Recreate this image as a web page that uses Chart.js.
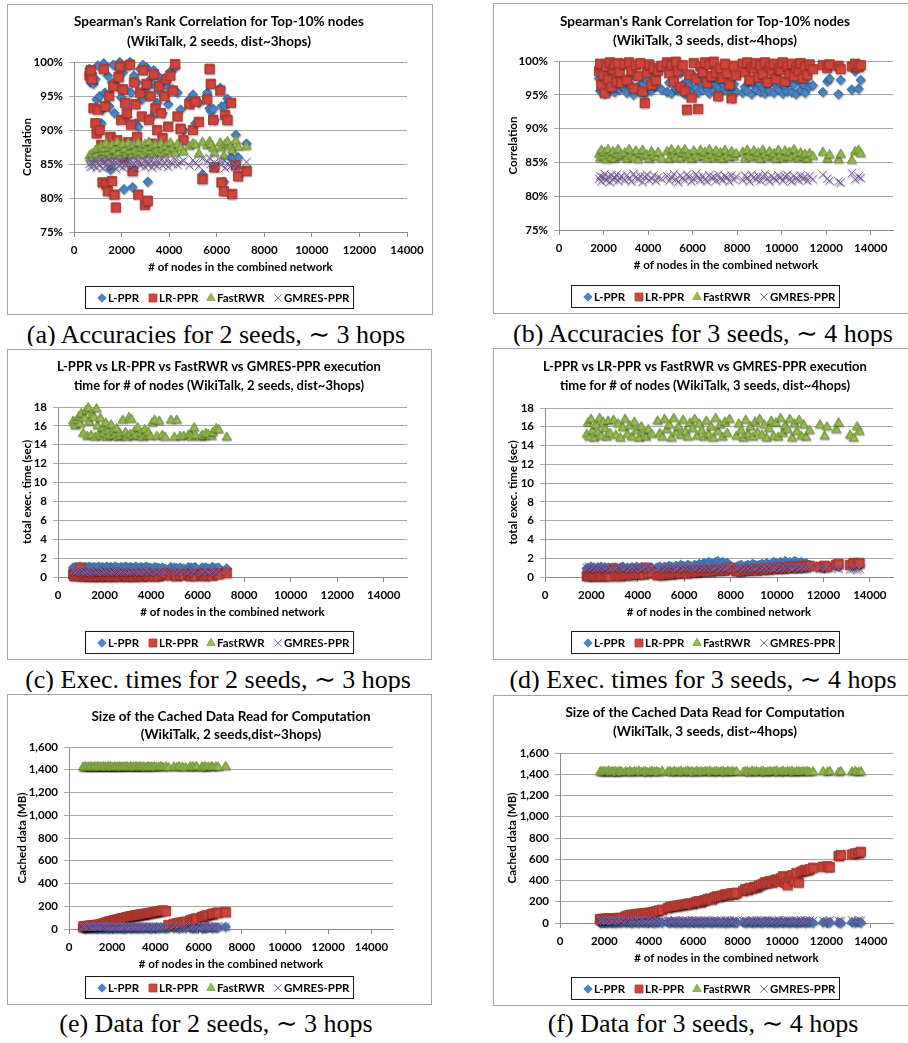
<!DOCTYPE html>
<html>
<head>
<meta charset="utf-8">
<script src="https://cdn.jsdelivr.net/npm/chart.js@4.4.1/dist/chart.umd.min.js"></script>
<style>
  html, body { margin: 0; padding: 0; background: #fff; }
  body { position: relative; width: 908px; height: 1043px; overflow: hidden; }
  canvas { position: absolute; }
  .cap {
    position: absolute; overflow: hidden; white-space: nowrap; text-align: center;
    font-family: "Liberation Serif", "DejaVu Serif", serif; font-size: 26px; line-height: 26px; color: #000;
  }
</style>
</head>
<body>
<script>
// ---------- experiments with 2 seeds (~3 hops) ----------
const nodes2Seeds = [
  650, 700, 750, 820, 900, 950, 1000, 1080, 1150, 1200, 1250, 1300, 1350, 1420, 1480,
  1530, 1600, 1650, 1700, 1760, 1820, 1870, 1920, 1980, 2050, 2100, 2150, 2220, 2280, 2350,
  2400, 2460, 2520, 2580, 2650, 2700, 2780, 2850, 2900, 2980, 3050, 3100, 3150, 3220, 3280,
  3350, 3420, 3500, 3580, 3650, 3720, 3800, 3880, 3960, 4050, 4150, 4250, 4350, 4480, 4600,
  4850, 5000, 5100, 5250, 5400, 5600, 5700, 5750, 5850, 5900, 6150, 6200, 6300, 6350, 6450, 6600, 6650, 6800, 6900, 7250
];
// Spearman correlation (%)
const corr2LPPR = [
  99.0, 97.0, 98.4, 96.8, 97.5, 94.5, 99.5, 95.0, 91.0, 93.0, 99.8, 95.5, 86.5, 98.0, 93.5,
  84.2, 97.0, 99.6, 92.5, 88.0, 96.5, 99.0, 100.0, 94.8, 98.5, 81.3, 96.0, 92.0, 99.5, 100.0,
  95.5, 81.6, 98.0, 91.0, 97.0, 90.5, 99.0, 94.5, 99.6, 96.0, 99.2, 82.4, 95.0, 97.5, 92.0,
  98.8, 96.5, 94.0, 97.8, 95.5, 92.5, 97.6, 96.5, 93.8, 98.6, 96.0, 99.2, 95.5, 93.0, 90.0,
  94.5, 95.2, 91.0, 94.0, 83.5, 95.5, 93.2, 92.8, 93.1, 91.5, 96.2, 93.5, 82.4, 93.6, 94.6, 86.0, 85.8, 89.3, 86.0, 88.0
];
const corr2LRPPR = [
  98.0, 98.8, 97.5, 93.2, 91.0, 89.5, 93.0, 90.0, 87.8, 82.3, 99.0, 93.5, 82.0, 81.0, 95.0,
  89.0, 82.5, 96.5, 80.5, 78.6, 88.5, 97.8, 99.4, 91.5, 96.0, 86.0, 94.0, 92.5, 88.2, 99.6,
  90.8, 84.0, 97.0, 93.8, 89.0, 80.5, 95.5, 92.0, 98.8, 79.0, 96.8, 79.6, 91.5, 95.0, 88.0,
  98.2, 93.2, 90.0, 96.5, 92.5, 88.8, 95.0, 97.5, 90.5, 98.0, 95.8, 99.7, 92.0, 90.2, 88.5,
  93.8, 90.0, 94.2, 91.2, 82.8, 94.5, 99.0, 96.8, 91.5, 84.5, 95.8, 82.3, 81.0, 92.2, 91.5, 94.0, 80.6, 84.8, 83.2, 84.0
];
const corr2FastRWR = [
  86.2, 85.8, 86.5, 86.0, 87.0, 86.4, 87.2, 86.0, 87.6, 86.8, 87.3, 85.9, 88.0, 86.6, 87.4,
  86.2, 87.8, 86.9, 87.1, 86.3, 88.2, 86.7, 87.5, 86.1, 87.9, 86.8, 87.2, 86.4, 88.0, 86.9,
  87.6, 86.2, 87.8, 87.0, 86.5, 88.1, 86.8, 87.4, 86.3, 87.9, 87.1, 86.6, 88.2, 86.9, 87.5,
  86.4, 87.8, 87.0, 86.7, 88.0, 87.2, 86.5, 87.6, 86.9, 88.1, 87.3, 86.6, 87.9, 87.4, 86.8,
  87.6, 88.0, 87.8, 86.5, 88.2, 87.7, 88.3, 87.9, 87.3, 86.6, 88.1, 87.4, 86.2, 87.9, 88.3, 87.6, 87.0, 88.4, 87.5, 87.6
];
const corr2GMRES = [
  85.0, 84.6, 85.3, 84.8, 85.6, 84.5, 85.1, 84.9, 85.7, 84.4, 85.2, 85.5, 84.7, 85.0, 85.8,
  84.6, 85.3, 84.9, 85.5, 84.3, 85.1, 85.6, 84.8, 85.2, 84.5, 85.7, 85.0, 84.7, 85.4, 85.8,
  84.6, 85.2, 85.0, 84.4, 85.6, 85.3, 84.8, 85.1, 85.7, 84.6, 85.4, 84.9, 85.2, 85.8, 84.5,
  85.0, 85.5, 84.7, 85.3, 85.9, 84.8, 85.1, 85.6, 84.6, 85.4, 85.0, 85.7, 84.9, 85.3, 85.5,
  84.8, 85.6, 85.2, 84.7, 85.8, 85.4, 85.9, 85.0, 84.6, 85.2, 85.5, 84.9, 85.6, 84.4, 85.1, 84.7, 85.3, 84.6, 85.0, 85.3
];
// total execution time (sec)
const time2LPPR = [
  1.0, 0.95, 1.05, 0.9, 1.0, 1.1, 0.95, 1.0, 0.9, 1.05, 1.0, 0.95, 1.1, 1.0, 0.9,
  1.05, 1.0, 0.95, 1.0, 1.1, 0.9, 1.0, 1.05, 0.95, 1.0, 1.1, 0.9, 1.0, 1.05, 0.95,
  1.0, 1.1, 0.95, 1.0, 0.9, 1.05, 1.0, 0.95, 1.1, 1.0, 0.9, 1.05, 1.0, 0.95, 1.0,
  1.1, 0.9, 1.0, 1.05, 0.95, 1.0, 1.1, 0.95, 1.0, 0.9, 1.05, 1.0, 0.95, 1.0, 0.9,
  1.05, 1.0, 0.95, 1.0, 0.9, 1.05, 1.0, 0.95, 1.0, 1.05, 0.9, 1.0, 0.95, 1.0, 0.9, 1.0, 1.05, 0.95, 1.0, 0.9
];
const time2LRPPR = [
  0.3, 0.1, 0.2, 0.15, 0.35, 1.0, 0.1, 0.25, 0.05, 0.3, 0.15, 0.2, 0.1, 0.35, 0.05,
  0.2, 0.1, 0.3, 0.15, 0.05, 0.25, 0.1, 0.2, 0.35, 0.05, 0.15, 0.3, 0.1, 0.2, 0.05,
  0.25, 0.1, 0.3, 0.15, 0.05, 0.2, 0.35, 0.1, 0.25, 0.05, 0.15, 0.3, 0.1, 0.2, 0.05,
  0.3, 0.15, 0.1, 0.25, 0.05, 0.2, 0.35, 0.1, 0.15, 0.3, 0.05, 0.2, 0.1, 0.25, 0.4,
  0.15, 0.3, 0.1, 0.25, 0.2, 0.35, 0.1, 0.3, 0.2, 0.15, 0.25, 0.4, 0.1, 0.3, 0.2, 0.35, 0.15, 0.4, 0.3, 0.45
];
const time2FastRWR = [
  16.5, 16.3, 16.0, 16.6, 17.0, 16.2, 17.3, 15.2, 16.8, 17.6, 14.9, 17.9, 16.4, 15.0, 17.2,
  16.9, 14.8, 17.8, 16.0, 15.1, 16.8, 14.9, 15.8, 15.2, 16.3, 14.8, 15.5, 15.0, 16.1, 14.9,
  15.4, 15.0, 15.7, 14.8, 15.2, 14.9, 16.6, 15.0, 15.3, 14.8, 16.9, 15.1, 16.7, 14.9, 15.4,
  15.0, 15.8, 14.9, 15.2, 14.8, 15.6, 15.0, 15.3, 14.9, 16.3, 16.6, 14.9, 16.5, 15.0, 14.8,
  16.6, 14.8, 16.6, 14.9, 14.9, 15.0, 15.1, 14.8, 15.8, 15.0, 14.8, 15.0, 14.9, 15.2, 15.1, 14.9, 15.3, 15.7, 15.6, 14.8
];
const time2GMRES = [
  0.6, 0.7, 0.5, 0.65, 0.75, 0.55, 0.7, 0.6, 0.45, 0.7, 0.65, 0.5, 0.75, 0.6, 0.55,
  0.7, 0.6, 0.5, 0.75, 0.65, 0.55, 0.7, 0.6, 0.5, 0.75, 0.65, 0.55, 0.7, 0.6, 0.5,
  0.75, 0.65, 0.55, 0.7, 0.6, 0.5, 0.75, 0.65, 0.55, 0.7, 0.6, 0.5, 0.75, 0.65, 0.55,
  0.7, 0.6, 0.5, 0.75, 0.65, 0.55, 0.7, 0.6, 0.5, 0.75, 0.65, 0.55, 0.7, 0.6, 0.5,
  0.75, 0.65, 0.55, 0.7, 0.6, 0.5, 0.75, 0.65, 0.55, 0.7, 0.6, 0.5, 0.75, 0.65, 0.55, 0.7, 0.6, 0.5, 0.75, 0.65
];
// cached data read (MB)
const cache2LPPR = [
  8, 12, 5, 10, 15, 7, 11, 6, 13, 9, 14, 5, 10, 12, 7,
  11, 6, 14, 8, 12, 5, 10, 15, 7, 11, 9, 13, 6, 12, 8,
  14, 7, 10, 5, 12, 9, 15, 6, 11, 8, 13, 10, 7, 14, 9,
  12, 6, 10, 15, 8, 11, 5, 13, 9, 12, 7, 14, 10, 6, 11,
  9, 13, 7, 12, 10, 14, 8, 11, 15, 9, 12, 7, 13, 10, 16, 12, 14, 11, 15, 20
];
const cache2LRPPR = [
  20, 24, 22, 26, 28, 27, 30, 32, 31, 34, 35, 34, 37, 38, 42,
  44, 48, 52, 55, 58, 62, 65, 68, 71, 74, 76, 78, 82, 84, 88,
  90, 92, 95, 98, 101, 104, 108, 112, 113, 115, 118, 120, 122, 124, 126,
  128, 130, 133, 135, 137, 140, 142, 145, 148, 152, 156, 160, 164, 158, 36,
  45, 50, 55, 60, 65, 75, 80, 84, 90, 92, 105, 108, 115, 118, 122, 130, 135, 140, 145, 150
];
const cache2FastRWR = [
  1422, 1418, 1426, 1420, 1424, 1417, 1428, 1421, 1419, 1425, 1423, 1418, 1427, 1420, 1424,
  1419, 1426, 1421, 1423, 1418, 1428, 1420, 1425, 1422, 1417, 1426, 1421, 1424, 1419, 1427,
  1420, 1423, 1418, 1426, 1422, 1425, 1419, 1428, 1421, 1424, 1418, 1427, 1420, 1423, 1426,
  1419, 1425, 1422, 1418, 1427, 1421, 1424, 1420, 1426, 1418, 1423, 1428, 1421, 1425, 1419,
  1424, 1420, 1427, 1422, 1418, 1426, 1421, 1425, 1419, 1428, 1423, 1420, 1426, 1418, 1424, 1427, 1421, 1425, 1422, 1428
];
const cache2GMRES = [
  18, 22, 16, 20, 24, 19, 21, 17, 23, 20, 18, 22, 16, 21, 24,
  19, 23, 17, 20, 22, 18, 24, 21, 16, 20, 23, 19, 22, 17, 21,
  24, 18, 20, 22, 16, 21, 19, 23, 20, 17, 22, 18, 24, 20, 21,
  19, 23, 17, 21, 22, 18, 20, 24, 16, 21, 19, 23, 20, 18, 22,
  21, 17, 23, 19, 22, 20, 18, 24, 21, 16, 22, 19, 23, 20, 18, 22, 21, 19, 23, 20
];

// ---------- experiments with 3 seeds (~4 hops) ----------
const nodes3Seeds = [
  1800, 1850, 1900, 1980, 2050, 2120, 2200, 2280, 2350, 2420, 2500, 2580, 2650, 2720, 2800,
  2950, 3050, 3150, 3250, 3350, 3450, 3550, 3650, 3750, 3850, 3950, 4050, 4150, 4250, 4350, 4450, 4600,
  4850, 4950, 5050, 5150, 5250, 5350, 5450, 5550, 5650, 5750, 5850, 5950, 6050, 6150, 6250, 6350,
  6450, 6550, 6650, 6750, 6850, 6950, 7050, 7150, 7250, 7350, 7450, 7550, 7650, 7750, 7850, 7950,
  8250, 8350, 8450, 8550, 8650, 8750, 8850, 8950, 9050, 9150, 9250, 9350, 9450, 9550, 9650, 9750,
  9850, 9950, 10050, 10150, 10250, 10350, 10450, 10550, 10650, 10750, 10850, 10950, 11050, 11150, 11250, 11400,
  11850, 12050, 12150, 12550, 12650, 13150, 13300, 13450, 13550
];
const corr3LPPR = [
  97.4, 95.6, 96.8, 98.2, 95.2, 96.5, 97.8, 95.5, 96.9, 98.0, 95.4, 96.2, 97.6, 95.8, 96.4,
  96.0, 95.3, 97.5, 96.4, 95.0, 97.9, 96.2, 95.4, 96.8, 95.1, 97.2, 96.0, 95.6, 97.6, 96.3, 98.6, 95.8,
  95.4, 96.8, 95.2, 97.4, 96.0, 95.6, 98.2, 96.5, 95.1, 97.0, 96.3, 95.5, 97.8, 96.1, 95.3, 96.9,
  95.8, 97.3, 96.0, 95.2, 96.7, 95.6, 97.5, 96.2, 95.4, 96.8, 95.7, 97.1, 96.4, 95.2, 96.6, 95.5,
  95.3, 96.2, 95.6, 97.0, 95.1, 96.5, 95.8, 96.9, 95.4, 96.1, 95.2, 96.7, 95.6, 97.2, 95.3, 96.4,
  95.9, 96.8, 95.2, 96.3, 95.5, 97.0, 95.4, 96.5, 95.1, 97.3, 95.7, 96.6, 95.3, 97.5, 96.2, 96.4,
  95.4, 97.0, 97.4, 95.1, 97.2, 95.8, 98.5, 95.9, 97.2
];
const corr3LRPPR = [
  98.5, 99.6, 96.5, 98.0, 95.3, 99.2, 97.3, 99.8, 96.2, 98.8, 99.5, 97.0, 99.7, 98.4, 96.8,
  99.6, 97.2, 99.8, 98.6, 96.0, 99.4, 97.8, 99.7, 95.5, 93.8, 98.3, 99.5, 96.5, 99.0, 97.2, 98.6, 99.3,
  99.8, 98.2, 99.5, 97.0, 99.9, 98.6, 96.2, 99.4, 95.6, 92.8, 98.0, 94.6, 99.7, 97.4, 92.9, 99.2,
  98.4, 99.8, 96.8, 99.5, 97.8, 99.9, 98.3, 94.8, 99.0, 97.5, 99.6, 98.2, 96.5, 94.5, 99.3, 97.9,
  99.6, 98.4, 99.8, 97.2, 99.1, 98.8, 99.7, 97.6, 99.4, 98.1, 99.8, 96.9, 99.2, 98.5, 99.6, 97.4,
  99.0, 98.7, 99.8, 97.0, 99.3, 98.2, 99.6, 97.8, 99.1, 98.6, 99.7, 97.5, 99.2, 98.0, 99.5, 98.8,
  99.4, 99.0, 99.5, 99.3, 98.8, 99.2, 99.6, 99.1, 99.4
];
const corr3FastRWR = [
  86.2, 85.6, 86.8, 85.9, 86.5, 85.4, 86.9, 86.0, 85.7, 86.6, 85.5, 86.3, 86.9, 85.8, 86.1,
  86.4, 85.5, 86.9, 86.0, 85.7, 86.7, 85.4, 86.3, 86.8, 85.9, 86.1, 85.5, 86.6, 86.0, 85.8, 86.5, 85.6,
  86.6, 85.5, 86.9, 86.1, 85.7, 86.8, 85.6, 86.4, 86.9, 85.8, 86.2, 85.5, 86.7, 86.0, 85.7, 86.8,
  85.9, 86.5, 85.6, 86.9, 86.1, 85.6, 86.7, 85.9, 86.4, 85.5, 86.8, 86.0, 85.7, 86.6, 85.8, 86.3,
  86.5, 85.6, 86.8, 86.0, 85.7, 86.7, 85.9, 86.4, 85.5, 86.8, 86.1, 85.7, 86.6, 85.9, 86.3, 85.5,
  86.8, 86.0, 85.6, 86.7, 85.8, 86.5, 85.7, 86.9, 86.0, 85.6, 86.4, 85.8, 86.2, 85.5, 86.3, 85.9,
  86.5, 85.5, 86.1, 85.4, 86.2, 85.3, 86.6, 86.8, 86.3
];
const corr3GMRES = [
  82.6, 83.0, 82.2, 82.8, 83.3, 82.4, 82.9, 82.1, 83.1, 82.5, 82.8, 83.2, 82.3, 82.7, 83.0,
  82.4, 83.1, 82.6, 82.2, 83.3, 82.8, 82.5, 83.0, 82.1, 82.9, 83.2, 82.4, 82.7, 83.1, 82.3, 82.8, 82.6,
  83.0, 82.3, 82.8, 83.3, 82.5, 82.1, 83.1, 82.7, 82.4, 83.2, 82.9, 82.2, 82.6, 83.3, 82.8, 82.4,
  83.0, 82.5, 82.2, 83.1, 82.7, 82.9, 82.3, 83.2, 82.6, 82.4, 83.0, 82.8, 82.2, 83.1, 82.5, 82.9,
  82.4, 83.1, 82.7, 82.2, 83.2, 82.8, 82.5, 83.0, 82.3, 82.9, 83.3, 82.6, 82.2, 83.0, 82.7, 82.4,
  83.1, 82.8, 82.3, 82.9, 83.2, 82.5, 82.2, 83.0, 82.7, 82.4, 83.1, 82.6, 82.9, 82.3, 83.0, 82.5,
  83.2, 82.6, 82.3, 82.2, 82.0, 83.4, 82.5, 82.9, 82.7
];
const time3LPPR = [
  0.9, 1.0, 0.8, 1.1, 0.9, 1.0, 0.8, 1.0, 0.9, 1.1, 0.8, 1.0, 0.9, 1.0, 0.9,
  0.9, 1.0, 0.8, 1.0, 1.1, 0.9, 1.0, 0.8, 1.0, 0.9, 1.1, 0.9, 1.0, 0.8, 1.0, 0.9, 1.0,
  1.0, 1.1, 0.9, 1.1, 1.0, 1.2, 1.1, 1.0, 1.2, 1.1, 1.3, 1.2, 1.1, 1.3, 1.2, 1.1,
  1.3, 1.2, 1.4, 1.3, 1.5, 1.4, 1.6, 1.5, 1.4, 1.6, 1.7, 1.5, 1.6, 1.4, 1.5, 1.3,
  1.1, 1.2, 1.3, 1.1, 1.2, 1.3, 1.2, 1.4, 1.3, 1.2, 1.3, 1.4, 1.2, 1.5, 1.3, 1.4,
  1.6, 1.5, 1.4, 1.6, 1.5, 1.7, 1.5, 1.6, 1.4, 1.7, 1.6, 1.5, 1.6, 1.4, 1.5, 1.3,
  1.1, 1.0, 1.2, 1.3, 1.2, 1.3, 1.2, 1.4, 1.3
];
const time3LRPPR = [
  0.1, 0.2, 0.1, 0.3, 0.1, 0.2, 0.1, 0.2, 0.1, 0.3, 0.1, 0.2, 0.1, 0.2, 0.1,
  0.9, 0.1, 0.2, 0.1, 0.3, 0.2, 0.2, 0.3, 0.2, 0.4, 0.3, 0.3, 0.4, 0.3, 1.0, 0.4, 0.5,
  0.2, 0.3, 0.2, 0.3, 0.3, 0.4, 0.3, 0.4, 0.4, 0.5, 0.4, 0.5, 0.5, 0.4, 0.6, 0.5,
  0.6, 0.5, 0.6, 0.6, 0.7, 0.6, 0.7, 0.6, 0.7, 0.7, 0.8, 0.7, 0.8, 0.7, 0.8, 1.0,
  0.6, 0.7, 0.6, 0.7, 0.7, 0.8, 0.7, 0.8, 0.8, 0.7, 0.9, 0.8, 0.8, 0.9, 0.8, 0.9,
  0.9, 1.0, 0.9, 1.0, 0.9, 1.0, 1.0, 1.1, 1.0, 1.1, 1.0, 1.1, 1.1, 1.2, 1.1, 1.2,
  1.1, 1.2, 1.1, 1.3, 1.4, 1.3, 1.5, 1.4, 1.5
];
const time3FastRWR = [
  15.2, 16.4, 14.9, 16.8, 15.6, 14.8, 16.2, 15.4, 16.9, 15.0, 16.5, 15.8, 14.9, 16.6, 15.3,
  16.7, 15.1, 16.3, 14.8, 15.9, 16.8, 15.2, 16.1, 14.9, 16.5, 15.6, 14.8, 16.0, 15.4, 14.9, 15.7, 15.2,
  16.6, 15.3, 14.9, 16.8, 15.7, 16.2, 14.8, 16.9, 15.4, 16.0, 15.1, 16.7, 15.5, 14.9, 16.4, 15.8,
  16.8, 15.0, 16.3, 15.6, 14.9, 16.6, 15.2, 16.0, 14.8, 16.9, 15.5, 16.2, 14.9, 16.5, 15.3, 16.8,
  15.0, 16.3, 15.6, 14.8, 16.7, 15.2, 16.0, 14.9, 16.5, 15.4, 16.8, 15.1, 16.2, 14.8, 15.8, 16.6,
  15.0, 16.4, 14.9, 16.9, 15.3, 16.1, 15.7, 16.8, 14.8, 16.3, 15.5, 16.7, 15.0, 16.2, 14.9, 15.6,
  16.2, 15.0, 16.0, 15.7, 16.4, 15.1, 14.8, 16.0, 15.5
];
const time3GMRES = [
  1.0, 0.9, 1.1, 0.9, 1.0, 1.1, 0.9, 1.0, 0.9, 1.1, 1.0, 0.9, 1.0, 1.1, 0.9,
  1.0, 0.9, 1.1, 1.0, 0.9, 1.0, 1.1, 0.9, 1.0, 0.9, 1.1, 1.0, 0.9, 1.0, 1.1, 0.9, 1.0,
  0.9, 1.0, 1.1, 0.9, 1.0, 0.9, 1.1, 1.0, 0.9, 1.0, 1.1, 0.9, 1.0, 0.9, 1.1, 1.0,
  0.9, 1.0, 1.1, 0.9, 1.0, 0.9, 1.1, 1.0, 0.9, 1.0, 1.1, 0.9, 1.0, 0.9, 1.0, 1.1,
  0.9, 1.0, 1.1, 0.9, 1.0, 0.9, 1.1, 1.0, 0.9, 1.0, 1.1, 0.9, 1.0, 0.9, 1.1, 1.0,
  0.9, 1.0, 1.1, 0.9, 1.0, 0.9, 1.1, 1.0, 0.9, 1.0, 1.1, 0.9, 1.0, 0.9, 1.0, 1.1,
  1.0, 0.9, 1.1, 1.0, 0.9, 0.8, 0.9, 0.8, 0.9
];
const cache3LPPR = [
  6, 2, 9, 4, 7, 1, 10, 5, 3, 8, 2, 6, 11, 4, 7,
  3, 9, 5, 1, 8, 6, 2, 10, 4, 7, 3, 9, 5, 1, 8, 6, 4,
  7, 2, 10, 5, 3, 8, 1, 6, 9, 4, 2, 11, 5, 7, 3, 8,
  1, 6, 10, 4, 2, 9, 5, 7, 3, 8, 1, 6, 4, 10, 2, 5,
  8, 3, 6, 10, 1, 7, 4, 9, 2, 5, 11, 3, 8, 6, 1, 7,
  4, 10, 2, 9, 5, 3, 8, 6, 1, 7, 4, 10, 2, 9, 5, 3,
  6, 2, 8, 4, 1, 7, 3, 9, 5
];
const cache3LRPPR = [
  35, 38, 36, 40, 38, 42, 40, 44, 42, 45, 43, 47, 45, 48, 46,
  62, 70, 75, 78, 80, 84, 86, 88, 90, 92, 95, 97, 100, 105, 110, 118, 125,
  140, 150, 155, 160, 162, 165, 170, 172, 175, 180, 185, 178, 190, 200, 205, 195,
  210, 215, 225, 230, 220, 240, 250, 245, 255, 260, 270, 265, 275, 280, 270, 285,
  300, 320, 310, 330, 325, 340, 335, 350, 360, 370, 385, 375, 395, 380, 400, 410,
  390, 420, 440, 380, 360, 430, 450, 400, 470, 380, 480, 490, 500, 495, 505, 520,
  530, 535, 525, 630, 640, 645, 655, 660, 670
];
const cache3FastRWR = [
  1420, 1425, 1415, 1428, 1418, 1422, 1430, 1416, 1424, 1419, 1427, 1414, 1421, 1426, 1417,
  1423, 1418, 1428, 1415, 1425, 1420, 1430, 1417, 1422, 1426, 1414, 1421, 1427, 1419, 1424, 1416, 1428,
  1421, 1426, 1415, 1429, 1418, 1423, 1427, 1416, 1422, 1430, 1419, 1425, 1414, 1428, 1420, 1424,
  1417, 1426, 1421, 1429, 1415, 1423, 1427, 1418, 1422, 1426, 1416, 1428, 1420, 1425, 1419, 1424,
  1418, 1427, 1422, 1415, 1429, 1420, 1425, 1417, 1423, 1428, 1416, 1421, 1426, 1419, 1424, 1430,
  1415, 1422, 1427, 1418, 1425, 1420, 1428, 1416, 1423, 1426, 1419, 1424, 1421, 1427, 1417, 1422,
  1424, 1420, 1426, 1418, 1425, 1421, 1427, 1419, 1423
];
const cache3GMRES = [
  22, 18, 26, 20, 24, 17, 28, 21, 19, 25, 23, 18, 27, 20, 24,
  19, 26, 21, 23, 18, 28, 20, 25, 22, 17, 26, 21, 24, 19, 27, 20, 23,
  25, 18, 22, 27, 20, 24, 17, 26, 21, 23, 19, 28, 22, 25, 18, 24,
  20, 27, 21, 23, 19, 26, 22, 18, 25, 20, 28, 21, 24, 19, 26, 22,
  20, 25, 18, 23, 27, 21, 24, 19, 26, 22, 28, 20, 23, 18, 25, 21,
  27, 19, 24, 22, 26, 20, 23, 18, 25, 21, 28, 19, 24, 22, 26, 20,
  24, 20, 26, 22, 19, 25, 21, 27, 23
];

// ---------- shared text and ticks ----------
const methodNames = ['L-PPR', 'LR-PPR', 'FastRWR', 'GMRES-PPR'];
const xAxisTitle = '# of nodes in the combined network';
const xTickValues = [0, 2000, 4000, 6000, 8000, 10000, 12000, 14000];

// marker appearance per method
const markerStyles = [
  { style: 'rectRot',  r: 4.8, fill: '#4a86c6', stroke: '#3b6ea6', bw: 0.8, legendR: 4.2 },
  { style: 'rect',     r: 6.6, fill: '#d0453c', stroke: '#a7352e', bw: 0.8, legendR: 5.6 },
  { style: 'triangle', r: 5.4, fill: '#98be51', stroke: '#76993b', bw: 0.8, legendR: 4.8 },
  { style: 'crossRot', r: 5.8, fill: '#8064a2', stroke: '#7e60a6', bw: 1.0, legendR: 5.2 }
];

const FONT = 'Lato, "Open Sans", "DejaVu Sans", sans-serif';
Chart.defaults.font.family = FONT;
Chart.defaults.color = '#000';

// white panel with a thin grey frame
const panelFrame = {
  id: 'panelFrame',
  beforeDraw(chart) {
    const { ctx, width, height } = chart;
    ctx.save();
    ctx.fillStyle = '#fff';
    ctx.fillRect(0, 0, width, height);
    ctx.strokeStyle = '#a3a3a3';
    ctx.lineWidth = 1;
    ctx.strokeRect(0.5, 0.5, width - 1, height - 1);
    ctx.restore();
  }
};

// soft drop shadow under the markers
const markerShadow = {
  id: 'markerShadow',
  beforeDatasetsDraw(chart) {
    const c = chart.ctx;
    c.save();
    c.shadowColor = 'rgba(0,0,0,0.32)';
    c.shadowBlur = 1.5;
    c.shadowOffsetX = 0.5;
    c.shadowOffsetY = 1.2;
  },
  afterDatasetsDraw(chart) { chart.ctx.restore(); }
};

// boxed legend row under the axis title
const boxedLegend = {
  id: 'boxedLegend',
  afterDraw(chart, args, o) {
    const ctx = chart.ctx;
    ctx.save();
    ctx.strokeStyle = '#1c1c1c';
    ctx.lineWidth = 1;
    ctx.strokeRect(o.x + 0.5, o.y + 0.5, o.w, o.h);
    const cy = o.y + o.h / 2 + 1;
    ctx.font = 'bold 11.5px ' + FONT;
    ctx.textBaseline = 'middle';
    ctx.textAlign = 'left';
    chart.data.datasets.forEach((ds, i) => {
      const m = markerStyles[i];
      const mx = o.items[i];
      ctx.fillStyle = m.fill;
      ctx.strokeStyle = m.stroke;
      ctx.lineWidth = m.bw;
      Chart.helpers.drawPoint(ctx, { pointStyle: m.style, radius: m.legendR, rotation: 0, borderWidth: m.bw }, mx, cy);
      ctx.fillStyle = '#000';
      ctx.fillText(ds.label, mx + 6, cy);
    });
    ctx.restore();
  }
};

const yFormats = {
  pct: v => v + '%',
  comma: v => v.toLocaleString('en-US'),
  plain: v => String(v)
};

const panels = [
  { L: 7, T: 4, W: 426, H: 311, xMax: 14000, nodes: nodes2Seeds,
    series: [corr2LPPR, corr2LRPPR, corr2FastRWR, corr2GMRES],
    yMin: 75, yMax: 100, yStep: 5, yFmt: 'pct', yTitle: 'Correlation',
    title: ["Spearman's Rank Correlation for Top-10% nodes", '(WikiTalk, 2 seeds, dist~3hops)'], tSize: 13.5,
    padL: 24, padR: 26, yW: 43, yTitleCenter: 20, tTop: 8, tBottom: 10, lh: 20, padB: 39, titleFull: true, legendY: 282 },
  { L: 493, T: 3, W: 420, H: 311, xMax: 15000, nodes: nodes3Seeds,
    series: [corr3LPPR, corr3LRPPR, corr3FastRWR, corr3GMRES],
    yMin: 75, yMax: 100, yStep: 5, yFmt: 'pct', yTitle: 'Correlation',
    title: ["Spearman's Rank Correlation for Top-10% nodes", '(WikiTalk, 3 seeds, dist~4hops)'], tSize: 13.5,
    padL: 24, padR: 20, yW: 42, yTitleCenter: 20, tTop: 9.5, tBottom: 10.5, lh: 19, padB: 40, titleFull: true, legendY: 282 },
  { L: 7, T: 349, W: 425, H: 311, xMax: 15000, nodes: nodes2Seeds,
    series: [time2LPPR, time2LRPPR, time2FastRWR, time2GMRES],
    yMin: 0, yMax: 18, yStep: 2, yFmt: 'plain', yTitle: 'total exec. time (sec)',
    title: ['L-PPR vs LR-PPR vs FastRWR vs GMRES-PPR execution', 'time for # of nodes (WikiTalk, 2 seeds, dist~3hops)'], tSize: 13,
    padL: 24, padR: 25, yW: 27, yTitleCenter: 20, tTop: 8.5, tBottom: 11.5, lh: 19, padB: 39, titleFull: true, legendY: 282 },
  { L: 493, T: 348, W: 420, H: 312, xMax: 15000, nodes: nodes3Seeds,
    series: [time3LPPR, time3LRPPR, time3FastRWR, time3GMRES],
    yMin: 0, yMax: 18, yStep: 2, yFmt: 'plain', yTitle: 'total exec. time (sec)',
    title: ['L-PPR vs LR-PPR vs FastRWR vs GMRES-PPR execution', 'time for # of nodes (WikiTalk, 3 seeds, dist~4hops)'], tSize: 13,
    padL: 24, padR: 20, yW: 28, yTitleCenter: 20, tTop: 9.5, tBottom: 12.5, lh: 19, padB: 39, titleFull: true, legendY: 283 },
  { L: 7, T: 694, W: 425, H: 311, xMax: 15000, nodes: nodes2Seeds,
    series: [cache2LPPR, cache2LRPPR, cache2FastRWR, cache2GMRES],
    yMin: 0, yMax: 1600, yStep: 200, yFmt: 'comma', yTitle: 'Cached data (MB)',
    title: ['Size of the Cached Data Read for Computation', '(WikiTalk, 2 seeds,dist~3hops)'], tSize: 13.5,
    padL: 8, padR: 39, yW: 54, yTitleCenter: 15, tTop: 14, tBottom: 3, lh: 18, padB: 32, titleFull: false, legendY: 282 },
  { L: 493, T: 695, W: 420, H: 311, xMax: 15000, nodes: nodes3Seeds,
    series: [cache3LPPR, cache3LRPPR, cache3FastRWR, cache3GMRES],
    yMin: 0, yMax: 1600, yStep: 200, yFmt: 'comma', yTitle: 'Cached data (MB)',
    title: ['Size of the Cached Data Read for Computation', '(WikiTalk, 3 seeds, dist~4hops)'], tSize: 13.5,
    padL: 24, padR: 20, yW: 43, yTitleCenter: 19, tTop: 8.5, tBottom: 11.5, lh: 19, padB: 39, titleFull: true, legendY: 282 }
];

const captions = [
  { text: '(a) Accuracies for 2 seeds, \u223C 3 hops', cx: 216, top: 322, h: 24 },
  { text: '(b) Accuracies for 3 seeds, \u223C 4 hops', cx: 703, top: 321, h: 25 },
  { text: '(c) Exec. times for 2 seeds, \u223C 3 hops', cx: 218, top: 667, h: 25 },
  { text: '(d) Exec. times for 3 seeds, \u223C 4 hops', cx: 703, top: 667, h: 25 },
  { text: '(e) Data for 2 seeds, \u223C 3 hops', cx: 216, top: 1011, h: 30 },
  { text: '(f) Data for 3 seeds, \u223C 4 hops', cx: 703, top: 1011, h: 30 }
];

const gridGrey = '#a8a8a8';
const axisGrey = '#8c8c8c';

function buildChart(p) {
  const canvas = document.createElement('canvas');
  canvas.width = p.W;
  canvas.height = p.H;
  canvas.style.left = p.L + 'px';
  canvas.style.top = p.T + 'px';
  canvas.style.width = p.W + 'px';
  canvas.style.height = p.H + 'px';
  document.body.appendChild(canvas);

  const datasets = methodNames.map((name, i) => {
    const m = markerStyles[i];
    return {
      label: name,
      data: p.nodes.map((x, k) => ({ x: x, y: p.series[i][k] })),
      pointStyle: m.style,
      pointRadius: m.r,
      pointHoverRadius: m.r,
      backgroundColor: m.fill,
      borderColor: m.stroke,
      borderWidth: m.bw,
      showLine: false,
      clip: false,
      order: methodNames.length - i
    };
  });

  const yTitleFontLH = 13.2;
  new Chart(canvas, {
    type: 'scatter',
    data: { datasets },
    options: {
      responsive: false,
      animation: false,
      devicePixelRatio: 1,
      events: [],
      layout: { padding: { left: p.padL, right: p.padR, top: 0, bottom: p.padB } },
      plugins: {
        legend: { display: false },
        tooltip: { enabled: false },
        title: {
          display: true,
          text: p.title,
          fullSize: p.titleFull,
          color: '#000',
          font: { family: FONT, size: p.tSize, weight: 'bold', lineHeight: p.lh + 'px' },
          padding: { top: p.tTop, bottom: p.tBottom }
        },
        boxedLegend: { x: 78, y: p.legendY, w: 268, h: 22, items: [95, 146, 204, 271] }
      },
      scales: {
        x: {
          type: 'linear',
          min: 0,
          max: p.xMax,
          ticks: { autoSkip: false, padding: 6, color: '#000', maxRotation: 0,
                   callback: v => String(v),
                   font: { family: FONT, size: 11.5, weight: 'bold' } },
          afterBuildTicks: s => { s.ticks = xTickValues.map(v => ({ value: v })); },
          grid: { drawOnChartArea: false, drawTicks: true, tickLength: 5, color: axisGrey },
          border: { color: axisGrey },
          title: { display: true, text: xAxisTitle, color: '#000', padding: { top: 0, bottom: 2 },
                   font: { family: FONT, size: 11.5, weight: 'bold' } },
          afterFit: s => { s.height = 44; s.paddingLeft = 0; s.paddingRight = 0; }
        },
        y: {
          type: 'linear',
          min: p.yMin,
          max: p.yMax,
          ticks: { stepSize: p.yStep, padding: 6, color: '#000', callback: yFormats[p.yFmt],
                   font: { family: FONT, size: 11.5, weight: 'bold' } },
          grid: { color: gridGrey, tickLength: 5, drawTicks: true },
          border: { color: axisGrey },
          title: { display: true, text: p.yTitle, color: '#000',
                   padding: { top: p.yTitleCenter - p.padL - yTitleFontLH / 2, bottom: 0 },
                   font: { family: FONT, size: 11.5, weight: 'bold' } },
          afterFit: s => { s.width = p.yW; s.paddingTop = 0; s.paddingBottom = 0; }
        }
      }
    },
    plugins: [panelFrame, markerShadow, boxedLegend]
  });
}

panels.forEach(buildChart);

captions.forEach(c => {
  const d = document.createElement('div');
  d.className = 'cap';
  d.textContent = c.text;
  d.style.left = (c.cx - 250) + 'px';
  d.style.width = '500px';
  d.style.top = c.top + 'px';
  d.style.height = c.h + 'px';
  document.body.appendChild(d);
});
</script>
</body>
</html>
